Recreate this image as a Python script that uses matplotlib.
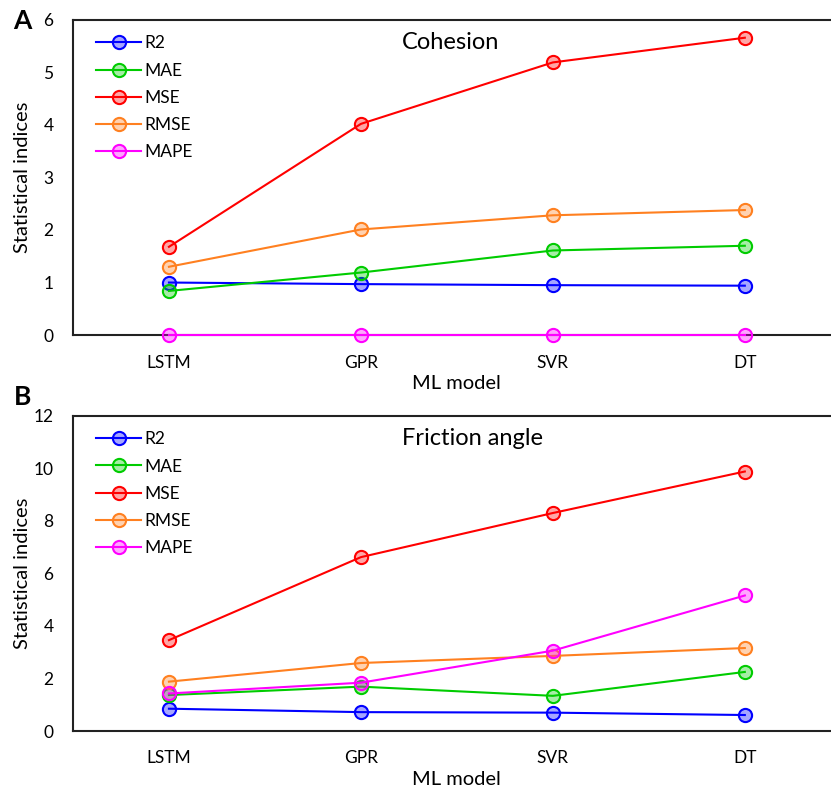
import matplotlib
matplotlib.use("Agg")
import matplotlib.pyplot as plt

plt.rcParams["font.family"] = ["Lato", "DejaVu Sans"]

MODELS = ["LSTM", "GPR", "SVR", "DT"]
SERIES = ["R2", "MAE", "MSE", "RMSE", "MAPE"]
COLORS = {"R2": "#0000ff", "MAE": "#00cc00", "MSE": "#ff0000",
          "RMSE": "#ff8020", "MAPE": "#ff00ff"}

# Panel A: cohesion
COHESION = {
    "R2":   [1.00, 0.97, 0.95, 0.94],
    "MAE":  [0.84, 1.19, 1.61, 1.70],
    "MSE":  [1.68, 4.02, 5.19, 5.66],
    "RMSE": [1.30, 2.01, 2.28, 2.38],
    "MAPE": [0.00, 0.00, 0.00, 0.00],
}
# Panel B: friction angle
FRICTION = {
    "R2":   [0.85, 0.72, 0.70, 0.61],
    "MAE":  [1.37, 1.69, 1.34, 2.25],
    "MSE":  [3.46, 6.62, 8.30, 9.88],
    "RMSE": [1.88, 2.59, 2.86, 3.16],
    "MAPE": [1.43, 1.84, 3.06, 5.16],
}


def draw(ax, data, title, ymax, ystep, letter, letter_y):
    x = range(len(MODELS))
    for name in SERIES:
        c = COLORS[name]
        ax.plot(x, data[name], color=c, lw=1.5, marker="o", markersize=9.5,
                markerfacecolor=matplotlib.colors.to_rgba(c, 0.35),
                markeredgecolor=c, markeredgewidth=1.5, label=name,
                clip_on=False, zorder=3)
    ax.set_xlim(-0.5, 3.5)
    ax.set_ylim(0, ymax)
    ax.set_xticks(list(x))
    ax.set_xticklabels(MODELS)
    ax.set_yticks(range(0, ymax + 1, ystep))
    ax.tick_params(length=0, labelsize=12.5, pad=14)
    for s in ["left", "top", "bottom"]:
        ax.spines[s].set_linewidth(1.5)
        ax.spines[s].set_color("#222222")
    ax.spines["right"].set_visible(False)
    ax.set_xlabel("ML model", fontsize=14.5, labelpad=3)
    ax.set_ylabel("Statistical indices", fontsize=14.5)
    ax.yaxis.set_label_coords(-0.055, 0.5)
    ax.text(0.428, 0.928, title, transform=ax.transAxes, fontsize=17,
            ha="left", va="center")
    ax.legend(loc="upper left", bbox_to_anchor=(0.01, 1.0), frameon=False,
              fontsize=12.5, handlelength=2.6, labelspacing=0.64,
              handletextpad=0.15)
    ax.text(-0.066, letter_y, letter, transform=ax.transAxes, fontsize=19,
            fontweight="bold", ha="center", va="center")


fig = plt.figure(figsize=(8.31, 7.94), dpi=100)
ax_a = fig.add_axes([0.0878, 0.578, 0.924, 0.397])
ax_b = fig.add_axes([0.0878, 0.0793, 0.924, 0.397])

draw(ax_a, COHESION, "Cohesion", 6, 1, "A", 0.995)
draw(ax_b, FRICTION, "Friction angle", 12, 2, "B", 1.06)

fig.savefig("out.png", dpi=100, facecolor="white")
